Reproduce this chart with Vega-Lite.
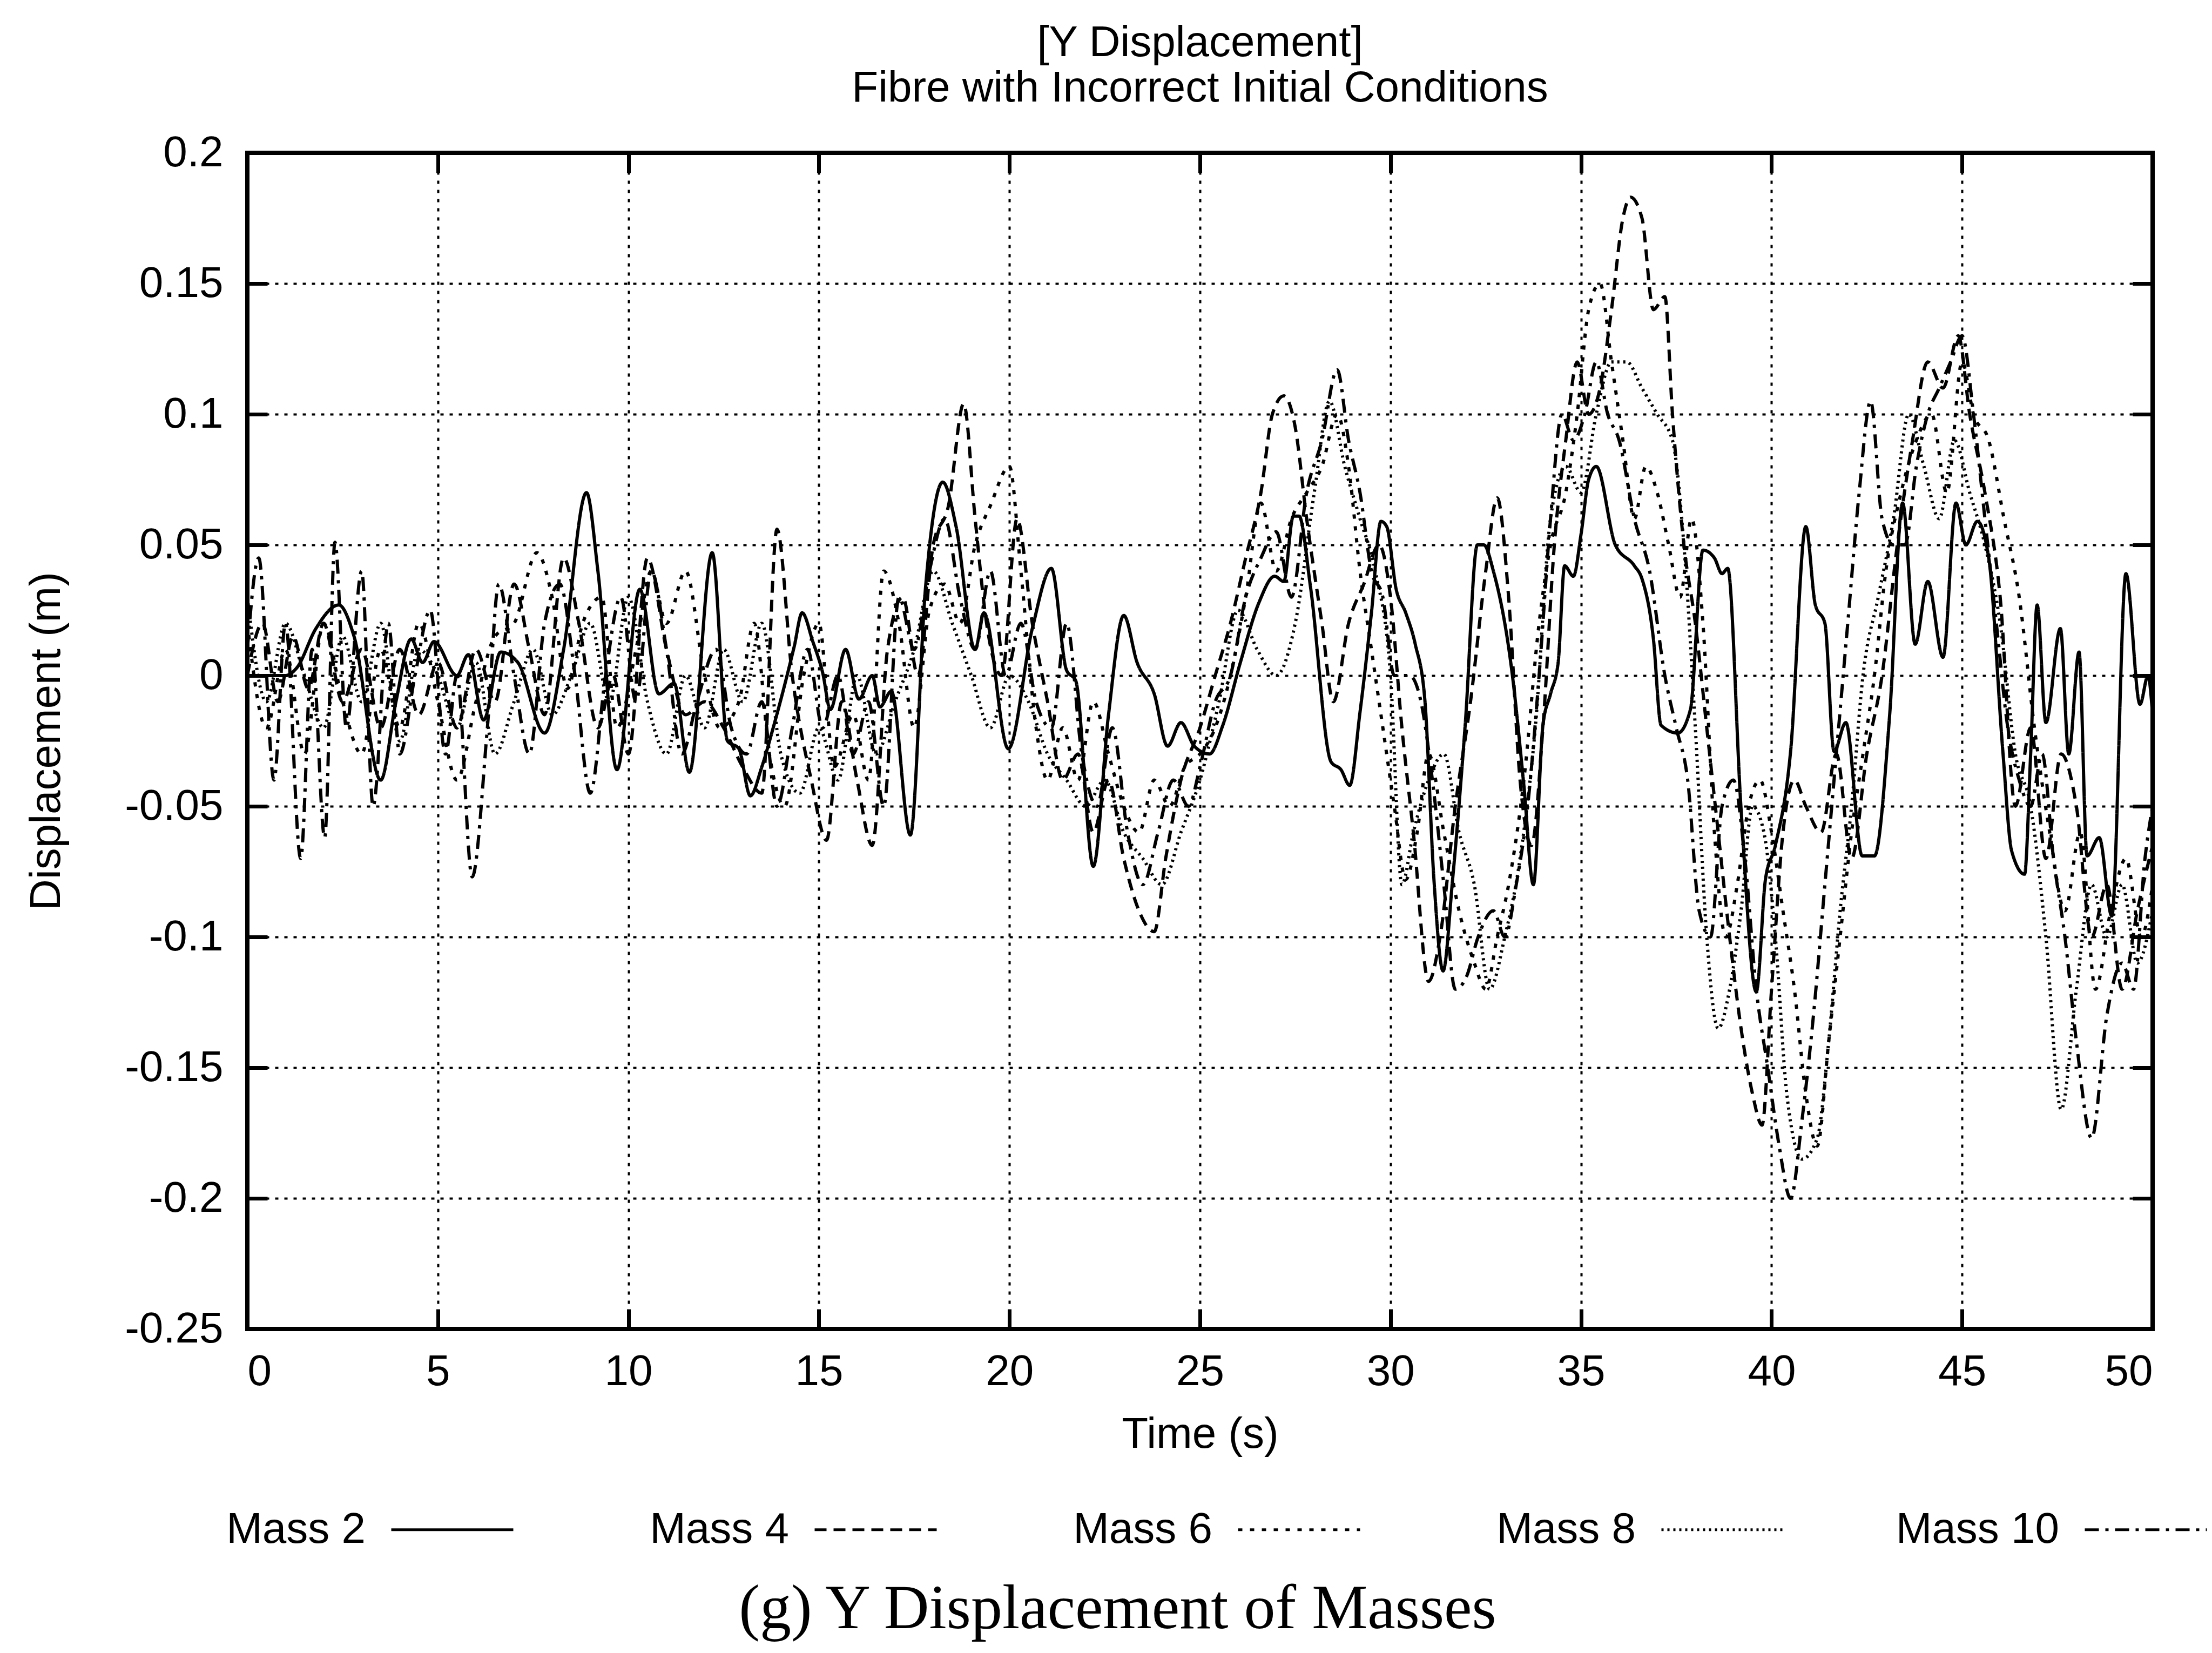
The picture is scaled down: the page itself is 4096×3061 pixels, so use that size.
{
"$schema":"https://vega.github.io/schema/vega-lite/v6.json",
"padding":{"left":42,"top":36,"right":0,"bottom":16},
"background":"white",
"title":{"text":"(g) Y Displacement of Masses","orient":"bottom","font":"Liberation Serif","fontSize":116,"fontWeight":"normal","anchor":"middle","offset":50,"color":"black"},
"vconcat":[{
"width":3528,"height":2178,
"title":{"text":["[Y Displacement]","Fibre with Incorrect Initial Conditions"],"font":"Liberation Sans","fontSize":80,"fontWeight":"normal","lineHeight":84,"offset":38,"anchor":"middle","frame":"group","color":"black"},
"data":{"values":[
{"series":"Mass 2","time":0,"disp":0},{"series":"Mass 2","time":0.5,"disp":0},{"series":"Mass 2","time":1.0,"disp":0},{"series":"Mass 2","time":1.3,"disp":0.003},{"series":"Mass 2","time":1.8,"disp":0.018},{"series":"Mass 2","time":2.4,"disp":0.027},{"series":"Mass 2","time":2.8,"disp":0.015},{"series":"Mass 2","time":3.5,"disp":-0.04},{"series":"Mass 2","time":3.9,"disp":-0.01},{"series":"Mass 2","time":4.3,"disp":0.014},{"series":"Mass 2","time":4.6,"disp":0.005},{"series":"Mass 2","time":4.9,"disp":0.013},{"series":"Mass 2","time":5.5,"disp":0},{"series":"Mass 2","time":5.8,"disp":0.008},{"series":"Mass 2","time":6.2,"disp":-0.017},{"series":"Mass 2","time":6.65,"disp":0.009},{"series":"Mass 2","time":7.1,"disp":0.005},{"series":"Mass 2","time":7.8,"disp":-0.022},{"series":"Mass 2","time":8.3,"disp":0.01},{"series":"Mass 2","time":8.9,"disp":0.07},{"series":"Mass 2","time":9.2,"disp":0.04},{"series":"Mass 2","time":9.7,"disp":-0.036},{"series":"Mass 2","time":10.3,"disp":0.033},{"series":"Mass 2","time":10.8,"disp":-0.007},{"series":"Mass 2","time":11.2,"disp":-0.003},{"series":"Mass 2","time":11.6,"disp":-0.037},{"series":"Mass 2","time":12.2,"disp":0.047},{"series":"Mass 2","time":12.6,"disp":-0.025},{"series":"Mass 2","time":12.9,"disp":-0.028},{"series":"Mass 2","time":13.2,"disp":-0.046},{"series":"Mass 2","time":13.5,"disp":-0.035},{"series":"Mass 2","time":13.8,"disp":-0.02},{"series":"Mass 2","time":14.35,"disp":0.011},{"series":"Mass 2","time":14.56,"disp":0.024},{"series":"Mass 2","time":14.84,"disp":0.013},{"series":"Mass 2","time":15.1,"disp":0.001},{"series":"Mass 2","time":15.3,"disp":-0.013},{"series":"Mass 2","time":15.7,"disp":0.01},{"series":"Mass 2","time":16.05,"disp":-0.009},{"series":"Mass 2","time":16.4,"disp":0},{"series":"Mass 2","time":16.6,"disp":-0.012},{"series":"Mass 2","time":16.9,"disp":-0.006},{"series":"Mass 2","time":17.4,"disp":-0.061},{"series":"Mass 2","time":17.8,"disp":0.034},{"series":"Mass 2","time":18.25,"disp":0.074},{"series":"Mass 2","time":18.6,"disp":0.057},{"series":"Mass 2","time":19.1,"disp":0.01},{"series":"Mass 2","time":19.33,"disp":0.024},{"series":"Mass 2","time":19.97,"disp":-0.028},{"series":"Mass 2","time":20.6,"disp":0.018},{"series":"Mass 2","time":21.1,"disp":0.041},{"series":"Mass 2","time":21.5,"disp":0.002},{"series":"Mass 2","time":21.74,"disp":-0.002},{"series":"Mass 2","time":22.2,"disp":-0.073},{"series":"Mass 2","time":22.6,"disp":-0.015},{"series":"Mass 2","time":23.0,"disp":0.023},{"series":"Mass 2","time":23.35,"disp":0.005},{"series":"Mass 2","time":23.8,"disp":-0.007},{"series":"Mass 2","time":24.15,"disp":-0.027},{"series":"Mass 2","time":24.5,"disp":-0.018},{"series":"Mass 2","time":24.85,"disp":-0.027},{"series":"Mass 2","time":25.25,"disp":-0.03},{"series":"Mass 2","time":25.6,"disp":-0.019},{"series":"Mass 2","time":26.06,"disp":0.005},{"series":"Mass 2","time":26.55,"disp":0.028},{"series":"Mass 2","time":26.96,"disp":0.038},{"series":"Mass 2","time":27.2,"disp":0.036},{"series":"Mass 2","time":27.45,"disp":0.061},{"series":"Mass 2","time":27.6,"disp":0.061},{"series":"Mass 2","time":27.9,"disp":0.034},{"series":"Mass 2","time":28.44,"disp":-0.033},{"series":"Mass 2","time":28.7,"disp":-0.036},{"series":"Mass 2","time":28.93,"disp":-0.042},{"series":"Mass 2","time":29.2,"disp":-0.014},{"series":"Mass 2","time":29.5,"disp":0.024},{"series":"Mass 2","time":29.75,"disp":0.059},{"series":"Mass 2","time":29.9,"disp":0.057},{"series":"Mass 2","time":30.15,"disp":0.033},{"series":"Mass 2","time":30.4,"disp":0.024},{"series":"Mass 2","time":30.65,"disp":0.012},{"series":"Mass 2","time":30.9,"disp":-0.009},{"series":"Mass 2","time":31.14,"disp":-0.078},{"series":"Mass 2","time":31.38,"disp":-0.113},{"series":"Mass 2","time":31.63,"disp":-0.078},{"series":"Mass 2","time":31.96,"disp":-0.019},{"series":"Mass 2","time":32.28,"disp":0.05},{"series":"Mass 2","time":32.45,"disp":0.05},{"series":"Mass 2","time":32.7,"disp":0.04},{"series":"Mass 2","time":33.2,"disp":0},{"series":"Mass 2","time":33.5,"disp":-0.042},{"series":"Mass 2","time":33.75,"disp":-0.08},{"series":"Mass 2","time":34.0,"disp":-0.019},{"series":"Mass 2","time":34.2,"disp":-0.007},{"series":"Mass 2","time":34.4,"disp":0.005},{"series":"Mass 2","time":34.57,"disp":0.042},{"series":"Mass 2","time":34.8,"disp":0.038},{"series":"Mass 2","time":35.0,"disp":0.054},{"series":"Mass 2","time":35.2,"disp":0.075},{"series":"Mass 2","time":35.4,"disp":0.08},{"series":"Mass 2","time":35.9,"disp":0.05},{"series":"Mass 2","time":36.4,"disp":0.042},{"series":"Mass 2","time":36.6,"disp":0.037},{"series":"Mass 2","time":36.9,"disp":0.014},{"series":"Mass 2","time":37.1,"disp":-0.019},{"series":"Mass 2","time":37.54,"disp":-0.022},{"series":"Mass 2","time":37.87,"disp":-0.013},{"series":"Mass 2","time":38.2,"disp":0.048},{"series":"Mass 2","time":38.5,"disp":0.045},{"series":"Mass 2","time":38.7,"disp":0.039},{"series":"Mass 2","time":38.85,"disp":0.041},{"series":"Mass 2","time":39.2,"disp":-0.051},{"series":"Mass 2","time":39.6,"disp":-0.121},{"series":"Mass 2","time":39.84,"disp":-0.078},{"series":"Mass 2","time":40.1,"disp":-0.065},{"series":"Mass 2","time":40.5,"disp":-0.029},{"series":"Mass 2","time":40.9,"disp":0.057},{"series":"Mass 2","time":41.15,"disp":0.027},{"series":"Mass 2","time":41.4,"disp":0.02},{"series":"Mass 2","time":41.64,"disp":-0.029},{"series":"Mass 2","time":41.95,"disp":-0.018},{"series":"Mass 2","time":42.38,"disp":-0.069},{"series":"Mass 2","time":42.7,"disp":-0.069},{"series":"Mass 2","time":43.1,"disp":-0.015},{"series":"Mass 2","time":43.44,"disp":0.066},{"series":"Mass 2","time":43.77,"disp":0.012},{"series":"Mass 2","time":44.1,"disp":0.036},{"series":"Mass 2","time":44.5,"disp":0.007},{"series":"Mass 2","time":44.84,"disp":0.066},{"series":"Mass 2","time":45.1,"disp":0.05},{"series":"Mass 2","time":45.4,"disp":0.059},{"series":"Mass 2","time":45.7,"disp":0.045},{"series":"Mass 2","time":46.07,"disp":-0.029},{"series":"Mass 2","time":46.3,"disp":-0.067},{"series":"Mass 2","time":46.64,"disp":-0.076},{"series":"Mass 2","time":46.8,"disp":-0.03},{"series":"Mass 2","time":46.97,"disp":0.027},{"series":"Mass 2","time":47.2,"disp":-0.018},{"series":"Mass 2","time":47.58,"disp":0.018},{"series":"Mass 2","time":47.8,"disp":-0.03},{"series":"Mass 2","time":48.07,"disp":0.009},{"series":"Mass 2","time":48.28,"disp":-0.069},{"series":"Mass 2","time":48.6,"disp":-0.062},{"series":"Mass 2","time":48.93,"disp":-0.092},{"series":"Mass 2","time":49.3,"disp":0.039},{"series":"Mass 2","time":49.67,"disp":-0.011},{"series":"Mass 2","time":49.88,"disp":0},{"series":"Mass 2","time":50,"disp":-0.015},
{"series":"Mass 4","time":0,"disp":0},{"series":"Mass 4","time":0.4,"disp":0.02},{"series":"Mass 4","time":0.8,"disp":-0.01},{"series":"Mass 4","time":1.2,"disp":0.015},{"series":"Mass 4","time":1.6,"disp":-0.005},{"series":"Mass 4","time":2.0,"disp":0.02},{"series":"Mass 4","time":2.5,"disp":-0.01},{"series":"Mass 4","time":3.0,"disp":0.01},{"series":"Mass 4","time":3.5,"disp":-0.02},{"series":"Mass 4","time":4.0,"disp":0.01},{"series":"Mass 4","time":4.5,"disp":-0.015},{"series":"Mass 4","time":5.0,"disp":0.005},{"series":"Mass 4","time":5.5,"disp":-0.02},{"series":"Mass 4","time":6.0,"disp":0.01},{"series":"Mass 4","time":6.5,"disp":-0.01},{"series":"Mass 4","time":7.0,"disp":0.035},{"series":"Mass 4","time":7.4,"disp":0.01},{"series":"Mass 4","time":7.8,"disp":-0.015},{"series":"Mass 4","time":8.3,"disp":0.045},{"series":"Mass 4","time":8.7,"disp":0.02},{"series":"Mass 4","time":9.2,"disp":-0.02},{"series":"Mass 4","time":9.6,"disp":0.0},{"series":"Mass 4","time":10.0,"disp":-0.03},{"series":"Mass 4","time":10.5,"disp":0.045},{"series":"Mass 4","time":11.0,"disp":0.01},{"series":"Mass 4","time":11.5,"disp":-0.015},{"series":"Mass 4","time":12.0,"disp":-0.01},{"series":"Mass 4","time":12.5,"disp":-0.02},{"series":"Mass 4","time":13.0,"disp":-0.035},{"series":"Mass 4","time":13.5,"disp":-0.045},{"series":"Mass 4","time":13.9,"disp":0.056},{"series":"Mass 4","time":14.3,"disp":0.0},{"series":"Mass 4","time":14.8,"disp":-0.04},{"series":"Mass 4","time":15.2,"disp":-0.063},{"series":"Mass 4","time":15.6,"disp":-0.01},{"series":"Mass 4","time":16.0,"disp":-0.04},{"series":"Mass 4","time":16.4,"disp":-0.065},{"series":"Mass 4","time":16.8,"disp":0.01},{"series":"Mass 4","time":17.2,"disp":0.03},{"series":"Mass 4","time":17.6,"disp":0.0},{"series":"Mass 4","time":18.0,"disp":0.05},{"series":"Mass 4","time":18.4,"disp":0.065},{"series":"Mass 4","time":18.8,"disp":0.104},{"series":"Mass 4","time":19.1,"disp":0.06},{"series":"Mass 4","time":19.4,"disp":0.02},{"series":"Mass 4","time":19.8,"disp":0.0},{"series":"Mass 4","time":20.2,"disp":0.06},{"series":"Mass 4","time":20.6,"disp":0.02},{"series":"Mass 4","time":21.0,"disp":-0.01},{"series":"Mass 4","time":21.4,"disp":-0.04},{"series":"Mass 4","time":21.8,"disp":-0.03},{"series":"Mass 4","time":22.2,"disp":-0.06},{"series":"Mass 4","time":22.6,"disp":-0.04},{"series":"Mass 4","time":23.0,"disp":-0.07},{"series":"Mass 4","time":23.4,"disp":-0.09},{"series":"Mass 4","time":23.8,"disp":-0.098},{"series":"Mass 4","time":24.1,"disp":-0.07},{"series":"Mass 4","time":24.5,"disp":-0.04},{"series":"Mass 4","time":25.0,"disp":-0.02},{"series":"Mass 4","time":25.4,"disp":0.0},{"series":"Mass 4","time":25.8,"disp":0.02},{"series":"Mass 4","time":26.2,"disp":0.045},{"series":"Mass 4","time":26.6,"disp":0.07},{"series":"Mass 4","time":26.9,"disp":0.1},{"series":"Mass 4","time":27.2,"disp":0.107},{"series":"Mass 4","time":27.5,"disp":0.095},{"series":"Mass 4","time":27.8,"disp":0.06},{"series":"Mass 4","time":28.2,"disp":0.02},{"series":"Mass 4","time":28.5,"disp":-0.01},{"series":"Mass 4","time":28.9,"disp":0.02},{"series":"Mass 4","time":29.3,"disp":0.035},{"series":"Mass 4","time":29.7,"disp":0.05},{"series":"Mass 4","time":30.0,"disp":0.03},{"series":"Mass 4","time":30.3,"disp":-0.02},{"series":"Mass 4","time":30.6,"disp":-0.06},{"series":"Mass 4","time":31.0,"disp":-0.117},{"series":"Mass 4","time":31.3,"disp":-0.1},{"series":"Mass 4","time":31.7,"disp":-0.05},{"series":"Mass 4","time":32.1,"disp":-0.01},{"series":"Mass 4","time":32.5,"disp":0.04},{"series":"Mass 4","time":32.8,"disp":0.068},{"series":"Mass 4","time":33.1,"disp":0.03},{"series":"Mass 4","time":33.4,"disp":-0.04},{"series":"Mass 4","time":33.7,"disp":-0.065},{"series":"Mass 4","time":34.0,"disp":-0.02},{"series":"Mass 4","time":34.3,"disp":0.05},{"series":"Mass 4","time":34.6,"disp":0.09},{"series":"Mass 4","time":34.9,"disp":0.12},{"series":"Mass 4","time":35.2,"disp":0.1},{"series":"Mass 4","time":35.5,"disp":0.11},{"series":"Mass 4","time":35.8,"disp":0.14},{"series":"Mass 4","time":36.1,"disp":0.175},{"series":"Mass 4","time":36.3,"disp":0.183},{"series":"Mass 4","time":36.6,"disp":0.175},{"series":"Mass 4","time":36.9,"disp":0.14},{"series":"Mass 4","time":37.2,"disp":0.145},{"series":"Mass 4","time":37.4,"disp":0.1},{"series":"Mass 4","time":37.7,"disp":0.05},{"series":"Mass 4","time":38.0,"disp":0.02},{"series":"Mass 4","time":38.3,"disp":-0.02},{"series":"Mass 4","time":38.6,"disp":-0.06},{"series":"Mass 4","time":38.9,"disp":-0.1},{"series":"Mass 4","time":39.2,"disp":-0.135},{"series":"Mass 4","time":39.5,"disp":-0.16},{"series":"Mass 4","time":39.75,"disp":-0.172},{"series":"Mass 4","time":40.0,"disp":-0.12},{"series":"Mass 4","time":40.3,"disp":-0.06},{"series":"Mass 4","time":40.6,"disp":-0.04},{"series":"Mass 4","time":40.9,"disp":-0.05},{"series":"Mass 4","time":41.3,"disp":-0.06},{"series":"Mass 4","time":41.7,"disp":-0.03},{"series":"Mass 4","time":42.1,"disp":-0.07},{"series":"Mass 4","time":42.5,"disp":-0.03},{"series":"Mass 4","time":42.9,"disp":0.0},{"series":"Mass 4","time":43.3,"disp":0.05},{"series":"Mass 4","time":43.7,"disp":0.09},{"series":"Mass 4","time":44.1,"disp":0.12},{"series":"Mass 4","time":44.5,"disp":0.11},{"series":"Mass 4","time":44.9,"disp":0.13},{"series":"Mass 4","time":45.2,"disp":0.1},{"series":"Mass 4","time":45.6,"disp":0.07},{"series":"Mass 4","time":46.0,"disp":0.03},{"series":"Mass 4","time":46.4,"disp":-0.05},{"series":"Mass 4","time":46.8,"disp":-0.02},{"series":"Mass 4","time":47.2,"disp":-0.07},{"series":"Mass 4","time":47.6,"disp":-0.03},{"series":"Mass 4","time":48.0,"disp":-0.05},{"series":"Mass 4","time":48.4,"disp":-0.1},{"series":"Mass 4","time":48.8,"disp":-0.08},{"series":"Mass 4","time":49.2,"disp":-0.12},{"series":"Mass 4","time":49.6,"disp":-0.09},{"series":"Mass 4","time":50,"disp":-0.065},
{"series":"Mass 6","time":0,"disp":0.02},{"series":"Mass 6","time":0.5,"disp":-0.02},{"series":"Mass 6","time":1.0,"disp":0.01},{"series":"Mass 6","time":1.5,"disp":-0.03},{"series":"Mass 6","time":2.0,"disp":0.02},{"series":"Mass 6","time":2.5,"disp":-0.01},{"series":"Mass 6","time":3.0,"disp":-0.03},{"series":"Mass 6","time":3.5,"disp":0.01},{"series":"Mass 6","time":4.0,"disp":-0.02},{"series":"Mass 6","time":4.5,"disp":0.02},{"series":"Mass 6","time":5.0,"disp":-0.01},{"series":"Mass 6","time":5.5,"disp":-0.04},{"series":"Mass 6","time":6.0,"disp":-0.01},{"series":"Mass 6","time":6.5,"disp":0.015},{"series":"Mass 6","time":7.0,"disp":0.02},{"series":"Mass 6","time":7.6,"disp":0.047},{"series":"Mass 6","time":8.0,"disp":0.03},{"series":"Mass 6","time":8.4,"disp":-0.005},{"series":"Mass 6","time":8.8,"disp":0.02},{"series":"Mass 6","time":9.3,"disp":0.03},{"series":"Mass 6","time":9.7,"disp":-0.02},{"series":"Mass 6","time":10.2,"disp":0.01},{"series":"Mass 6","time":10.6,"disp":0.04},{"series":"Mass 6","time":11.0,"disp":0.02},{"series":"Mass 6","time":11.5,"disp":0.04},{"series":"Mass 6","time":12.0,"disp":0.0},{"series":"Mass 6","time":12.4,"disp":-0.02},{"series":"Mass 6","time":12.9,"disp":-0.01},{"series":"Mass 6","time":13.3,"disp":0.02},{"series":"Mass 6","time":13.7,"disp":-0.03},{"series":"Mass 6","time":14.1,"disp":-0.05},{"series":"Mass 6","time":14.6,"disp":0.0},{"series":"Mass 6","time":15.0,"disp":0.02},{"series":"Mass 6","time":15.4,"disp":-0.035},{"series":"Mass 6","time":15.9,"disp":-0.015},{"series":"Mass 6","time":16.3,"disp":-0.04},{"series":"Mass 6","time":16.7,"disp":0.04},{"series":"Mass 6","time":17.1,"disp":0.02},{"series":"Mass 6","time":17.5,"disp":-0.02},{"series":"Mass 6","time":17.9,"disp":0.025},{"series":"Mass 6","time":18.3,"disp":0.035},{"series":"Mass 6","time":18.7,"disp":0.02},{"series":"Mass 6","time":19.1,"disp":0.05},{"series":"Mass 6","time":19.5,"disp":0.065},{"series":"Mass 6","time":20.0,"disp":0.08},{"series":"Mass 6","time":20.3,"disp":0.04},{"series":"Mass 6","time":20.7,"disp":-0.02},{"series":"Mass 6","time":21.0,"disp":-0.04},{"series":"Mass 6","time":21.4,"disp":-0.02},{"series":"Mass 6","time":21.8,"disp":-0.04},{"series":"Mass 6","time":22.2,"disp":-0.01},{"series":"Mass 6","time":22.6,"disp":-0.03},{"series":"Mass 6","time":23.0,"disp":-0.05},{"series":"Mass 6","time":23.4,"disp":-0.06},{"series":"Mass 6","time":23.8,"disp":-0.04},{"series":"Mass 6","time":24.2,"disp":-0.05},{"series":"Mass 6","time":24.6,"disp":-0.035},{"series":"Mass 6","time":25.0,"disp":-0.03},{"series":"Mass 6","time":25.4,"disp":-0.02},{"series":"Mass 6","time":25.8,"disp":0.0},{"series":"Mass 6","time":26.2,"disp":0.03},{"series":"Mass 6","time":26.6,"disp":0.066},{"series":"Mass 6","time":27.0,"disp":0.04},{"series":"Mass 6","time":27.4,"disp":0.06},{"series":"Mass 6","time":27.8,"disp":0.07},{"series":"Mass 6","time":28.2,"disp":0.08},{"series":"Mass 6","time":28.6,"disp":0.1},{"series":"Mass 6","time":28.9,"disp":0.08},{"series":"Mass 6","time":29.2,"disp":0.04},{"series":"Mass 6","time":29.5,"disp":0.01},{"series":"Mass 6","time":29.8,"disp":-0.02},{"series":"Mass 6","time":30.1,"disp":-0.05},{"series":"Mass 6","time":30.4,"disp":-0.078},{"series":"Mass 6","time":30.7,"disp":-0.06},{"series":"Mass 6","time":31.0,"disp":-0.03},{"series":"Mass 6","time":31.4,"disp":-0.06},{"series":"Mass 6","time":31.8,"disp":-0.09},{"series":"Mass 6","time":32.2,"disp":-0.11},{"series":"Mass 6","time":32.5,"disp":-0.12},{"series":"Mass 6","time":32.8,"disp":-0.1},{"series":"Mass 6","time":33.1,"disp":-0.08},{"series":"Mass 6","time":33.5,"disp":-0.04},{"series":"Mass 6","time":33.9,"disp":0.02},{"series":"Mass 6","time":34.2,"disp":0.05},{"series":"Mass 6","time":34.6,"disp":0.07},{"series":"Mass 6","time":34.9,"disp":0.1},{"series":"Mass 6","time":35.2,"disp":0.14},{"series":"Mass 6","time":35.5,"disp":0.15},{"series":"Mass 6","time":35.8,"disp":0.12},{"series":"Mass 6","time":36.1,"disp":0.09},{"series":"Mass 6","time":36.4,"disp":0.06},{"series":"Mass 6","time":36.7,"disp":0.08},{"series":"Mass 6","time":37.0,"disp":0.07},{"series":"Mass 6","time":37.3,"disp":0.05},{"series":"Mass 6","time":37.6,"disp":0.03},{"series":"Mass 6","time":37.9,"disp":0.06},{"series":"Mass 6","time":38.2,"disp":0.02},{"series":"Mass 6","time":38.5,"disp":-0.06},{"series":"Mass 6","time":38.8,"disp":-0.1},{"series":"Mass 6","time":39.1,"disp":-0.08},{"series":"Mass 6","time":39.4,"disp":-0.05},{"series":"Mass 6","time":39.7,"disp":-0.04},{"series":"Mass 6","time":40.0,"disp":-0.06},{"series":"Mass 6","time":40.3,"disp":-0.09},{"series":"Mass 6","time":40.6,"disp":-0.12},{"series":"Mass 6","time":40.9,"disp":-0.16},{"series":"Mass 6","time":41.2,"disp":-0.18},{"series":"Mass 6","time":41.5,"disp":-0.14},{"series":"Mass 6","time":41.8,"disp":-0.1},{"series":"Mass 6","time":42.1,"disp":-0.06},{"series":"Mass 6","time":42.4,"disp":-0.03},{"series":"Mass 6","time":42.7,"disp":0.0},{"series":"Mass 6","time":43.0,"disp":0.04},{"series":"Mass 6","time":43.4,"disp":0.07},{"series":"Mass 6","time":43.8,"disp":0.09},{"series":"Mass 6","time":44.2,"disp":0.1},{"series":"Mass 6","time":44.6,"disp":0.07},{"series":"Mass 6","time":45.0,"disp":0.12},{"series":"Mass 6","time":45.3,"disp":0.1},{"series":"Mass 6","time":45.7,"disp":0.09},{"series":"Mass 6","time":46.1,"disp":0.06},{"series":"Mass 6","time":46.5,"disp":0.03},{"series":"Mass 6","time":46.9,"disp":-0.02},{"series":"Mass 6","time":47.3,"disp":-0.06},{"series":"Mass 6","time":47.7,"disp":-0.09},{"series":"Mass 6","time":48.1,"disp":-0.06},{"series":"Mass 6","time":48.5,"disp":-0.12},{"series":"Mass 6","time":48.9,"disp":-0.09},{"series":"Mass 6","time":49.3,"disp":-0.07},{"series":"Mass 6","time":49.7,"disp":-0.1},{"series":"Mass 6","time":50,"disp":-0.08},
{"series":"Mass 8","time":0,"disp":0.03},{"series":"Mass 8","time":0.5,"disp":-0.01},{"series":"Mass 8","time":1.0,"disp":0.02},{"series":"Mass 8","time":1.5,"disp":0.0},{"series":"Mass 8","time":2.0,"disp":-0.02},{"series":"Mass 8","time":2.5,"disp":0.015},{"series":"Mass 8","time":3.0,"disp":-0.01},{"series":"Mass 8","time":3.5,"disp":0.02},{"series":"Mass 8","time":4.0,"disp":-0.025},{"series":"Mass 8","time":4.5,"disp":0.01},{"series":"Mass 8","time":5.0,"disp":0.0},{"series":"Mass 8","time":5.5,"disp":-0.02},{"series":"Mass 8","time":6.0,"disp":0.005},{"series":"Mass 8","time":6.5,"disp":-0.03},{"series":"Mass 8","time":7.0,"disp":-0.01},{"series":"Mass 8","time":7.5,"disp":0.01},{"series":"Mass 8","time":8.0,"disp":-0.015},{"series":"Mass 8","time":8.5,"disp":0.0},{"series":"Mass 8","time":9.0,"disp":0.02},{"series":"Mass 8","time":9.5,"disp":-0.01},{"series":"Mass 8","time":10.0,"disp":0.03},{"series":"Mass 8","time":10.5,"disp":-0.01},{"series":"Mass 8","time":11.0,"disp":-0.03},{"series":"Mass 8","time":11.5,"disp":0.0},{"series":"Mass 8","time":12.0,"disp":-0.02},{"series":"Mass 8","time":12.5,"disp":0.01},{"series":"Mass 8","time":13.0,"disp":-0.01},{"series":"Mass 8","time":13.5,"disp":0.02},{"series":"Mass 8","time":14.0,"disp":-0.03},{"series":"Mass 8","time":14.5,"disp":-0.045},{"series":"Mass 8","time":15.0,"disp":-0.02},{"series":"Mass 8","time":15.5,"disp":-0.04},{"series":"Mass 8","time":16.0,"disp":0.0},{"series":"Mass 8","time":16.5,"disp":-0.03},{"series":"Mass 8","time":17.0,"disp":-0.01},{"series":"Mass 8","time":17.5,"disp":0.01},{"series":"Mass 8","time":18.0,"disp":0.04},{"series":"Mass 8","time":18.5,"disp":0.02},{"series":"Mass 8","time":19.0,"disp":0.0},{"series":"Mass 8","time":19.5,"disp":-0.02},{"series":"Mass 8","time":20.0,"disp":0.0},{"series":"Mass 8","time":20.5,"disp":-0.01},{"series":"Mass 8","time":21.0,"disp":-0.03},{"series":"Mass 8","time":21.5,"disp":-0.04},{"series":"Mass 8","time":22.0,"disp":-0.05},{"series":"Mass 8","time":22.5,"disp":-0.04},{"series":"Mass 8","time":23.0,"disp":-0.06},{"series":"Mass 8","time":23.5,"disp":-0.07},{"series":"Mass 8","time":24.0,"disp":-0.08},{"series":"Mass 8","time":24.5,"disp":-0.06},{"series":"Mass 8","time":25.0,"disp":-0.04},{"series":"Mass 8","time":25.5,"disp":-0.01},{"series":"Mass 8","time":26.0,"disp":0.025},{"series":"Mass 8","time":26.5,"disp":0.01},{"series":"Mass 8","time":27.0,"disp":0.0},{"series":"Mass 8","time":27.5,"disp":0.02},{"series":"Mass 8","time":28.0,"disp":0.07},{"series":"Mass 8","time":28.4,"disp":0.105},{"series":"Mass 8","time":28.8,"disp":0.08},{"series":"Mass 8","time":29.2,"disp":0.06},{"series":"Mass 8","time":29.6,"disp":0.04},{"series":"Mass 8","time":30.0,"disp":0.0},{"series":"Mass 8","time":30.3,"disp":-0.08},{"series":"Mass 8","time":30.6,"disp":-0.06},{"series":"Mass 8","time":31.0,"disp":-0.04},{"series":"Mass 8","time":31.4,"disp":-0.03},{"series":"Mass 8","time":31.8,"disp":-0.06},{"series":"Mass 8","time":32.2,"disp":-0.08},{"series":"Mass 8","time":32.6,"disp":-0.12},{"series":"Mass 8","time":33.0,"disp":-0.1},{"series":"Mass 8","time":33.4,"disp":-0.07},{"series":"Mass 8","time":33.8,"disp":-0.02},{"series":"Mass 8","time":34.2,"disp":0.06},{"series":"Mass 8","time":34.6,"disp":0.08},{"series":"Mass 8","time":35.0,"disp":0.07},{"series":"Mass 8","time":35.4,"disp":0.1},{"series":"Mass 8","time":35.8,"disp":0.12},{"series":"Mass 8","time":36.2,"disp":0.12},{"series":"Mass 8","time":36.6,"disp":0.11},{"series":"Mass 8","time":37.0,"disp":0.1},{"series":"Mass 8","time":37.4,"disp":0.09},{"series":"Mass 8","time":37.7,"disp":0.05},{"series":"Mass 8","time":38.0,"disp":-0.02},{"series":"Mass 8","time":38.3,"disp":-0.1},{"series":"Mass 8","time":38.6,"disp":-0.135},{"series":"Mass 8","time":38.9,"disp":-0.12},{"series":"Mass 8","time":39.2,"disp":-0.09},{"series":"Mass 8","time":39.5,"disp":-0.05},{"series":"Mass 8","time":39.8,"disp":-0.06},{"series":"Mass 8","time":40.1,"disp":-0.1},{"series":"Mass 8","time":40.4,"disp":-0.16},{"series":"Mass 8","time":40.8,"disp":-0.185},{"series":"Mass 8","time":41.2,"disp":-0.177},{"series":"Mass 8","time":41.5,"disp":-0.14},{"series":"Mass 8","time":41.8,"disp":-0.09},{"series":"Mass 8","time":42.1,"disp":-0.05},{"series":"Mass 8","time":42.4,"disp":0.0},{"series":"Mass 8","time":42.8,"disp":0.03},{"series":"Mass 8","time":43.2,"disp":0.06},{"series":"Mass 8","time":43.6,"disp":0.1},{"series":"Mass 8","time":44.0,"disp":0.08},{"series":"Mass 8","time":44.4,"disp":0.06},{"series":"Mass 8","time":44.8,"disp":0.09},{"series":"Mass 8","time":45.2,"disp":0.07},{"series":"Mass 8","time":45.6,"disp":0.05},{"series":"Mass 8","time":46.0,"disp":0.02},{"series":"Mass 8","time":46.4,"disp":-0.03},{"series":"Mass 8","time":46.8,"disp":-0.05},{"series":"Mass 8","time":47.2,"disp":-0.1},{"series":"Mass 8","time":47.6,"disp":-0.166},{"series":"Mass 8","time":48.0,"disp":-0.12},{"series":"Mass 8","time":48.4,"disp":-0.08},{"series":"Mass 8","time":48.8,"disp":-0.1},{"series":"Mass 8","time":49.2,"disp":-0.08},{"series":"Mass 8","time":49.6,"disp":-0.11},{"series":"Mass 8","time":50,"disp":-0.09},
{"series":"Mass 10","time":0,"disp":0.01},{"series":"Mass 10","time":0.3,"disp":0.045},{"series":"Mass 10","time":0.7,"disp":-0.04},{"series":"Mass 10","time":1.0,"disp":0.02},{"series":"Mass 10","time":1.4,"disp":-0.07},{"series":"Mass 10","time":1.7,"disp":0.01},{"series":"Mass 10","time":2.03,"disp":-0.062},{"series":"Mass 10","time":2.3,"disp":0.051},{"series":"Mass 10","time":2.6,"disp":-0.02},{"series":"Mass 10","time":3.0,"disp":0.04},{"series":"Mass 10","time":3.3,"disp":-0.05},{"series":"Mass 10","time":3.7,"disp":0.02},{"series":"Mass 10","time":4.0,"disp":-0.03},{"series":"Mass 10","time":4.4,"disp":0.0},{"series":"Mass 10","time":4.8,"disp":0.025},{"series":"Mass 10","time":5.2,"disp":-0.03},{"series":"Mass 10","time":5.5,"disp":0.0},{"series":"Mass 10","time":5.9,"disp":-0.077},{"series":"Mass 10","time":6.3,"disp":-0.02},{"series":"Mass 10","time":6.6,"disp":0.035},{"series":"Mass 10","time":7.0,"disp":0.0},{"series":"Mass 10","time":7.4,"disp":-0.03},{"series":"Mass 10","time":7.8,"disp":0.02},{"series":"Mass 10","time":8.2,"disp":0.035},{"series":"Mass 10","time":8.6,"disp":0.0},{"series":"Mass 10","time":9.0,"disp":-0.045},{"series":"Mass 10","time":9.4,"disp":0.0},{"series":"Mass 10","time":9.8,"disp":0.03},{"series":"Mass 10","time":10.2,"disp":-0.01},{"series":"Mass 10","time":10.6,"disp":0.04},{"series":"Mass 10","time":11.0,"disp":0.01},{"series":"Mass 10","time":11.4,"disp":-0.03},{"series":"Mass 10","time":11.8,"disp":-0.01},{"series":"Mass 10","time":12.3,"disp":0.01},{"series":"Mass 10","time":12.7,"disp":-0.02},{"series":"Mass 10","time":13.1,"disp":-0.03},{"series":"Mass 10","time":13.5,"disp":-0.01},{"series":"Mass 10","time":13.9,"disp":-0.05},{"series":"Mass 10","time":14.3,"disp":-0.02},{"series":"Mass 10","time":14.7,"disp":0.01},{"series":"Mass 10","time":15.1,"disp":-0.02},{"series":"Mass 10","time":15.5,"disp":0.0},{"series":"Mass 10","time":15.9,"disp":-0.03},{"series":"Mass 10","time":16.3,"disp":-0.01},{"series":"Mass 10","time":16.7,"disp":-0.05},{"series":"Mass 10","time":17.1,"disp":0.03},{"series":"Mass 10","time":17.5,"disp":0.01},{"series":"Mass 10","time":17.9,"disp":0.04},{"series":"Mass 10","time":18.3,"disp":0.06},{"series":"Mass 10","time":18.7,"disp":0.03},{"series":"Mass 10","time":19.1,"disp":0.01},{"series":"Mass 10","time":19.5,"disp":0.04},{"series":"Mass 10","time":19.9,"disp":0.0},{"series":"Mass 10","time":20.3,"disp":0.02},{"series":"Mass 10","time":20.7,"disp":-0.01},{"series":"Mass 10","time":21.1,"disp":-0.02},{"series":"Mass 10","time":21.5,"disp":0.02},{"series":"Mass 10","time":21.9,"disp":-0.03},{"series":"Mass 10","time":22.3,"disp":-0.05},{"series":"Mass 10","time":22.7,"disp":-0.02},{"series":"Mass 10","time":23.1,"disp":-0.06},{"series":"Mass 10","time":23.5,"disp":-0.08},{"series":"Mass 10","time":23.9,"disp":-0.06},{"series":"Mass 10","time":24.3,"disp":-0.04},{"series":"Mass 10","time":24.7,"disp":-0.05},{"series":"Mass 10","time":25.0,"disp":-0.035},{"series":"Mass 10","time":25.4,"disp":-0.01},{"series":"Mass 10","time":25.8,"disp":0.0},{"series":"Mass 10","time":26.2,"disp":0.03},{"series":"Mass 10","time":26.6,"disp":0.045},{"series":"Mass 10","time":27.0,"disp":0.055},{"series":"Mass 10","time":27.4,"disp":0.03},{"series":"Mass 10","time":27.8,"disp":0.07},{"series":"Mass 10","time":28.2,"disp":0.09},{"series":"Mass 10","time":28.6,"disp":0.117},{"series":"Mass 10","time":28.9,"disp":0.09},{"series":"Mass 10","time":29.2,"disp":0.07},{"series":"Mass 10","time":29.5,"disp":0.04},{"series":"Mass 10","time":29.8,"disp":0.03},{"series":"Mass 10","time":30.1,"disp":0.0},{"series":"Mass 10","time":30.5,"disp":0.0},{"series":"Mass 10","time":30.8,"disp":-0.01},{"series":"Mass 10","time":31.1,"disp":-0.04},{"series":"Mass 10","time":31.4,"disp":-0.08},{"series":"Mass 10","time":31.7,"disp":-0.12},{"series":"Mass 10","time":32.0,"disp":-0.115},{"series":"Mass 10","time":32.3,"disp":-0.1},{"series":"Mass 10","time":32.7,"disp":-0.09},{"series":"Mass 10","time":33.0,"disp":-0.1},{"series":"Mass 10","time":33.3,"disp":-0.08},{"series":"Mass 10","time":33.6,"disp":-0.05},{"series":"Mass 10","time":33.9,"disp":0.0},{"series":"Mass 10","time":34.2,"disp":0.06},{"series":"Mass 10","time":34.5,"disp":0.1},{"series":"Mass 10","time":34.8,"disp":0.09},{"series":"Mass 10","time":35.1,"disp":0.1},{"series":"Mass 10","time":35.4,"disp":0.12},{"series":"Mass 10","time":35.7,"disp":0.1},{"series":"Mass 10","time":36.0,"disp":0.09},{"series":"Mass 10","time":36.4,"disp":0.06},{"series":"Mass 10","time":36.8,"disp":0.04},{"series":"Mass 10","time":37.2,"disp":0.0},{"series":"Mass 10","time":37.5,"disp":-0.02},{"series":"Mass 10","time":37.8,"disp":-0.04},{"series":"Mass 10","time":38.1,"disp":-0.09},{"series":"Mass 10","time":38.4,"disp":-0.1},{"series":"Mass 10","time":38.7,"disp":-0.05},{"series":"Mass 10","time":39.0,"disp":-0.04},{"series":"Mass 10","time":39.3,"disp":-0.07},{"series":"Mass 10","time":39.6,"disp":-0.12},{"series":"Mass 10","time":39.9,"disp":-0.15},{"series":"Mass 10","time":40.2,"disp":-0.18},{"series":"Mass 10","time":40.5,"disp":-0.2},{"series":"Mass 10","time":40.8,"disp":-0.17},{"series":"Mass 10","time":41.1,"disp":-0.13},{"series":"Mass 10","time":41.4,"disp":-0.08},{"series":"Mass 10","time":41.7,"disp":-0.03},{"series":"Mass 10","time":42.0,"disp":0.02},{"series":"Mass 10","time":42.3,"disp":0.07},{"series":"Mass 10","time":42.6,"disp":0.105},{"series":"Mass 10","time":42.9,"disp":0.06},{"series":"Mass 10","time":43.2,"disp":0.05},{"series":"Mass 10","time":43.5,"disp":0.05},{"series":"Mass 10","time":43.8,"disp":0.08},{"series":"Mass 10","time":44.1,"disp":0.1},{"series":"Mass 10","time":44.4,"disp":0.11},{"series":"Mass 10","time":44.7,"disp":0.12},{"series":"Mass 10","time":45.0,"disp":0.13},{"series":"Mass 10","time":45.3,"disp":0.1},{"series":"Mass 10","time":45.6,"disp":0.06},{"series":"Mass 10","time":45.9,"disp":0.02},{"series":"Mass 10","time":46.2,"disp":-0.02},{"series":"Mass 10","time":46.5,"disp":-0.04},{"series":"Mass 10","time":46.8,"disp":-0.05},{"series":"Mass 10","time":47.1,"disp":-0.03},{"series":"Mass 10","time":47.4,"disp":-0.07},{"series":"Mass 10","time":47.7,"disp":-0.1},{"series":"Mass 10","time":48.0,"disp":-0.14},{"series":"Mass 10","time":48.4,"disp":-0.177},{"series":"Mass 10","time":48.8,"disp":-0.13},{"series":"Mass 10","time":49.2,"disp":-0.11},{"series":"Mass 10","time":49.5,"disp":-0.12},{"series":"Mass 10","time":49.8,"disp":-0.07},{"series":"Mass 10","time":50,"disp":-0.05}
]},
"layer":[
{"mark":{"type":"line","interpolate":"monotone","strokeWidth":6,"color":"black","clip":true},
"encoding":{
"x":{"field":"time","type":"quantitative","scale":{"domain":[0,50],"nice":false,"zero":false},
"axis":{"orient":"bottom","title":"Time (s)","values":[0,5,10,15,20,25,30,35,40,45,50],"format":"d","grid":true,"domain":false,"ticks":true,"tickSize":-37,"labelPadding":77,"titlePadding":37}},
"y":{"field":"disp","type":"quantitative","scale":{"domain":[-0.25,0.2],"nice":false,"zero":false},
"axis":{"orient":"left","title":"Displacement (m)","values":[-0.25,-0.2,-0.15,-0.1,-0.05,0,0.05,0.1,0.15,0.2],"labelExpr":"'' + datum.value","labelLimit":1000,"grid":true,"domain":false,"ticks":true,"tickSize":-37,"labelPadding":82,"titlePadding":131}},
"strokeDash":{"field":"series","type":"nominal","scale":{"domain":["Mass 2","Mass 4","Mass 6","Mass 8","Mass 10"],"range":[[1,0],[22,13],[8,14],[4,7],[26,12,6,12]]},
"legend":{"title":null,"orient":"none","legendX":264,"legendY":2434,"direction":"horizontal","columns":5,"gridAlign":"all","columnPadding":197,"padding":0,"symbolType":"stroke","symbolSize":51076,"symbolStrokeWidth":5,"symbolStrokeColor":"black","labelAlign":"right","labelOffset":-276,"labelFont":"Liberation Sans","labelFontSize":80,"labelColor":"black","labelLimit":1000}}
}},
{"mark":{"type":"line","strokeOpacity":0,"clip":true},
"encoding":{
"x":{"field":"time","type":"quantitative","axis":{"orient":"top","title":null,"labels":false,"grid":false,"domain":false,"ticks":true,"tickSize":-37,"values":[0,5,10,15,20,25,30,35,40,45,50]}},
"y":{"field":"disp","type":"quantitative","axis":{"orient":"right","title":null,"labels":false,"grid":false,"domain":false,"ticks":true,"tickSize":-37,"values":[-0.25,-0.2,-0.15,-0.1,-0.05,0,0.05,0.1,0.15,0.2]}},
"detail":{"field":"series","type":"nominal"}
}}
],
"resolve":{"axis":{"x":"independent","y":"independent"}}
}],
"config":{
"view":{"stroke":"black","strokeWidth":8},
"axis":{"labelFont":"Liberation Sans","labelFontSize":80,"labelColor":"black","titleFont":"Liberation Sans","titleFontSize":80,"titleFontWeight":"normal","titleColor":"black","tickColor":"black","tickWidth":7,"gridColor":"black","gridDash":[6,11],"gridWidth":4,"gridOpacity":1}
}
}
